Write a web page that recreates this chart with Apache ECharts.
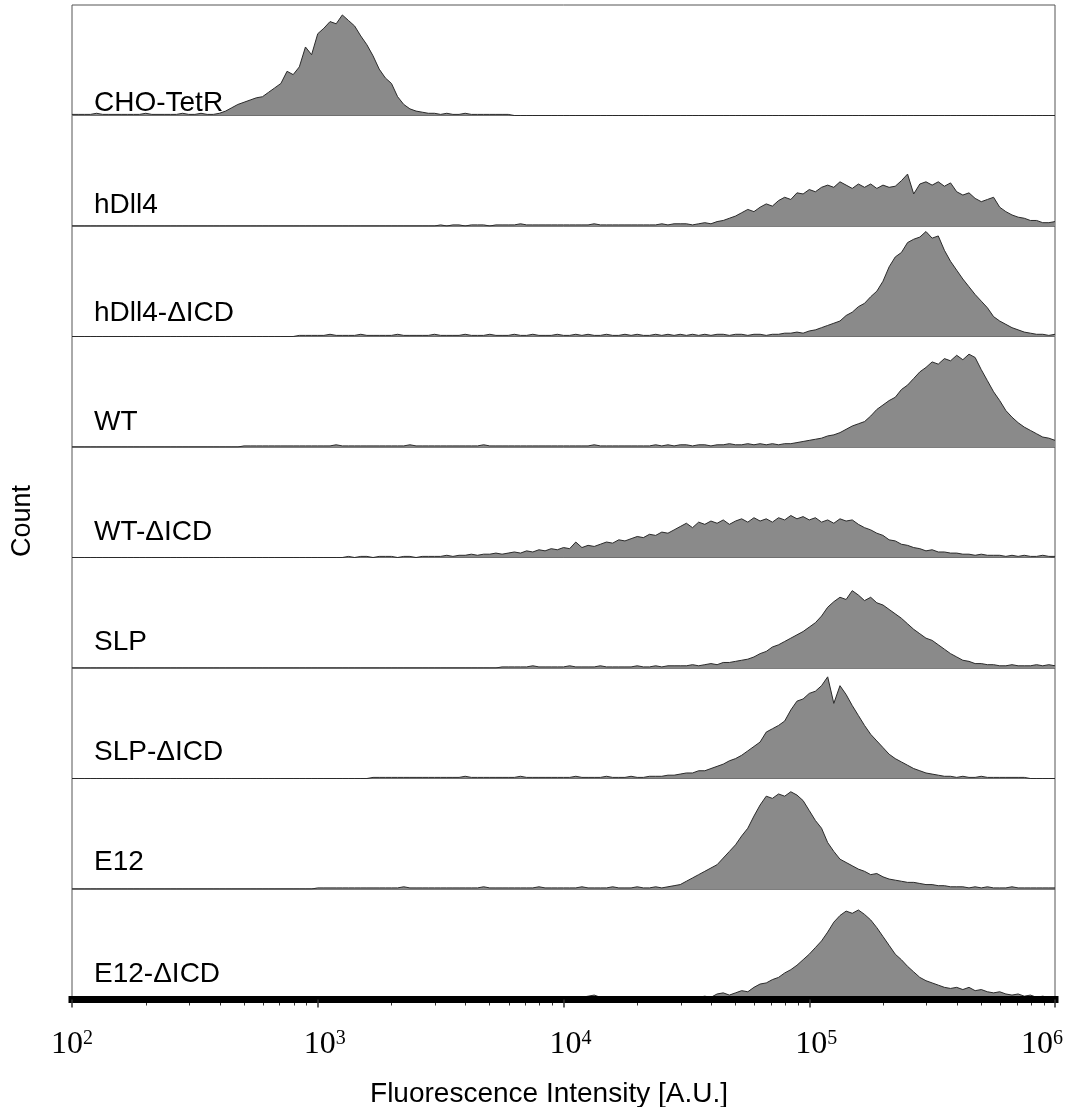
<!DOCTYPE html>
<html>
<head>
<meta charset="utf-8">
<title>Fluorescence histograms</title>
<script src="https://cdn.jsdelivr.net/npm/echarts@6/dist/echarts.min.js"></script>
<style>
  html, body { margin: 0; padding: 0; background: #fff; }
  #chart { width: 1071px; height: 1107px; }
</style>
</head>
<body>
<div id="chart"></div>
<script>
// histogram bins: log10(intensity) starting at 10^2, fixed step
const logStart = 2;
const logStep = 0.025;
const binCount = 161;

const sampleNames = ['CHO-TetR', 'hDll4', 'hDll4-ΔICD', 'WT', 'WT-ΔICD', 'SLP', 'SLP-ΔICD', 'E12', 'E12-ΔICD'];

// counts per bin (scaled so 100 = panel height)
const choTetR = [
  1,1,1,1,2,1,1,1,1,1, 1,1,2,1,1,1,1,1,2,1, 1,2,1,1,2,4,7,10,12,14, 16,17,21,25,29,40,37,44,62,55,
  74,79,85,83,91,86,81,72,64,54, 42,34,29,17,10,6,4,3,2,2, 1,2,1,1,2,1,1,1,1,1, 1,1,0,0,0,0,0,0,0,0,
  0,0,0,0,0,0,0,0,0,0, 0,0,0,0,0,0,0,0,0,0, 0,0,0,0,0,0,0,0,0,0, 0,0,0,0,0,0,0,0,0,0,
  0,0,0,0,0,0,0,0,0,0, 0,0,0,0,0,0,0,0,0,0, 0,0,0,0,0,0,0,0,0,0, 0,0,0,0,0,0,0,0,0,0,
  0
];
const hDll4 = [
  0,0,0,0,0,0,0,0,0,0, 0,0,0,0,0,0,0,0,0,0, 0,0,0,0,0,0,0,0,0,0, 0,0,0,0,0,0,0,0,0,0,
  0,0,0,0,0,0,0,0,0,0, 0,0,0,0,0,0,0,0,0,0, 1,0,1,1,0,1,1,1,0,1, 1,1,1,2,1,1,1,1,1,1,
  1,1,1,1,1,2,1,1,1,1, 1,1,1,1,1,1,2,1,2,2, 2,1,2,3,2,4,5,7,9,12, 15,13,17,20,18,23,26,24,30,29,
  33,31,35,37,35,40,37,34,38,35, 38,34,37,35,36,41,47,29,38,40, 37,40,36,39,31,28,30,25,22,24, 26,17,13,10,8,7,5,5,3,3,
  4
];
const hDll4dICD = [
  0,0,0,0,0,0,0,0,0,0, 0,0,0,0,0,0,0,0,0,0, 0,0,0,0,0,0,0,0,0,0, 0,0,0,0,0,0,0,1,1,1,
  1,1,2,1,1,1,1,2,1,1, 1,1,1,2,1,1,1,1,1,2, 1,1,1,1,2,1,1,1,2,1, 1,1,2,1,1,2,1,1,1,2,
  1,1,2,1,2,1,1,2,1,1, 2,1,2,1,1,2,1,2,1,2, 1,2,1,2,1,2,2,1,2,2, 1,2,2,1,2,2,3,3,4,3,
  5,6,8,10,12,14,19,22,27,30, 36,41,50,63,72,76,85,88,90,95, 89,91,78,68,60,52,45,38,32,26, 18,14,11,8,6,4,3,2,2,1,
  2
];
const wt = [
  0,0,0,0,0,0,0,0,0,0, 0,0,0,0,0,0,0,0,0,0, 0,0,0,0,0,0,0,0,1,1, 1,1,1,1,1,1,1,1,1,1,
  1,1,1,2,1,1,1,1,1,1, 1,1,1,1,1,2,1,1,1,1, 1,1,1,1,1,1,1,2,1,1, 1,1,1,1,1,1,1,1,1,1,
  1,1,1,1,1,2,1,1,1,1, 1,1,1,1,1,2,1,2,1,2, 2,1,2,2,1,2,2,3,2,2, 3,2,3,2,3,2,3,3,4,5,
  6,7,8,10,11,13,16,19,21,23, 28,34,38,42,45,52,56,62,68,72, 77,75,80,78,83,79,84,81,70,60, 50,42,33,27,22,18,15,12,9,8,
  6
];
const wtdICD = [
  0,0,0,0,0,0,0,0,0,0, 0,0,0,0,0,0,0,0,0,0, 0,0,0,0,0,0,0,0,0,0, 0,0,0,0,0,0,0,0,0,0,
  0,0,0,0,0,1,0,1,1,0, 1,1,1,0,1,1,0,1,1,1, 1,2,1,2,2,3,2,3,3,4, 3,4,5,4,6,5,7,6,8,7,
  9,8,14,9,11,10,12,14,13,16, 15,17,19,18,21,20,23,22,25,28, 31,27,32,30,33,31,34,30,33,35, 32,36,33,35,32,36,34,38,35,37,
  34,36,32,34,31,35,33,34,30,27, 25,22,20,16,15,12,11,9,8,6, 7,5,5,4,4,3,3,2,3,2, 2,2,1,2,1,2,1,1,2,1,
  1
];
const slp = [
  0,0,0,0,0,0,0,0,0,0, 0,0,0,0,0,0,0,0,0,0, 0,0,0,0,0,0,0,0,0,0, 0,0,0,0,0,0,0,0,0,0,
  0,0,0,0,0,0,0,0,0,0, 0,0,0,0,0,0,0,0,0,0, 0,0,0,0,0,0,0,0,0,0, 1,1,1,1,1,2,1,1,1,1,
  1,2,1,1,1,1,2,1,1,1, 1,1,2,1,1,2,1,2,2,2, 2,3,2,3,4,3,5,5,6,7, 8,10,13,15,19,21,24,27,30,33,
  37,41,47,55,60,64,62,70,66,61, 64,59,57,53,49,45,40,35,31,27, 25,21,17,13,10,7,6,4,4,3, 3,2,2,3,2,2,2,3,2,3,
  2
];
const slpdICD = [
  0,0,0,0,0,0,0,0,0,0, 0,0,0,0,0,0,0,0,0,0, 0,0,0,0,0,0,0,0,0,0, 0,0,0,0,0,0,0,0,0,0,
  0,0,0,0,0,0,0,0,0,1, 1,1,1,1,1,1,1,1,1,1, 1,1,1,1,2,1,1,1,1,1, 1,1,1,2,1,1,1,1,1,1,
  1,1,2,1,1,1,1,2,1,1, 1,2,1,1,2,2,2,3,3,4, 5,5,7,7,9,11,13,16,18,21, 25,29,33,42,45,48,52,62,70,72,
  77,79,84,92,68,84,76,66,57,48, 40,34,28,22,18,15,12,9,7,5, 4,3,2,2,1,2,1,1,2,1, 1,1,1,1,1,1,0,0,0,0,
  0
];
const e12 = [
  0,0,0,0,0,0,0,0,0,0, 0,0,0,0,0,0,0,0,0,0, 0,0,0,0,0,0,0,0,0,0, 0,0,0,0,0,0,0,0,0,0,
  1,1,1,1,1,1,1,1,1,1, 1,1,1,1,2,1,1,1,1,1, 1,1,1,1,1,1,1,2,1,1, 1,1,1,1,1,1,2,1,1,1,
  1,1,1,2,1,1,1,1,2,1, 1,1,2,1,1,2,1,2,3,4, 7,10,13,16,19,22,28,34,40,48, 55,66,76,84,82,86,84,88,85,80,
  71,62,55,42,34,27,24,21,18,16, 13,14,11,9,8,7,6,6,5,4, 4,3,3,2,2,2,1,2,1,2, 1,1,1,2,1,1,1,1,1,1,
  1
];
const e12dICD = [
  0,0,0,0,0,0,0,0,0,0, 0,0,0,0,0,0,0,0,0,0, 0,0,0,0,0,0,0,0,0,0, 0,0,0,0,0,0,0,0,0,0,
  0,0,0,0,0,0,0,0,0,0, 0,0,0,0,0,0,0,0,0,0, 0,0,0,0,0,0,0,0,0,0, 0,0,1,1,1,2,1,1,1,1,
  1,2,1,2,3,4,2,1,2,1, 1,1,1,2,1,1,1,1,2,1, 2,1,2,3,2,5,6,4,6,8, 7,11,14,15,18,20,24,27,31,36,
  41,47,53,61,70,76,80,78,81,77, 72,65,57,49,41,36,30,25,20,17, 15,13,11,10,11,9,11,8,9,7, 6,7,5,4,5,3,4,2,3,2,
  1
];
const counts = [choTetR, hDll4, hDll4dICD, wt, wtdICD, slp, slpdICD, e12, e12dICD];

const axisMin = 100;
const axisMax = 1000000;
const minorFactors = [2, 3, 4, 5, 6, 7, 8, 9];
const decades = [100, 1000, 10000, 100000];

// layout
const plotLeft = 72, plotRight = 16, plotTop = 5, panelH = 110.5;
const labelLift = [12, 21, 23, 25, 25, 26, 26, 27, 25];
const sansFont = '"Liberation Sans", Arial, sans-serif';
const serifFont = '"Liberation Serif", "DejaVu Serif", serif';

const binX = [];
for (let i = 0; i < binCount; i++) binX.push(Math.pow(10, logStart + i * logStep));

const minorTicks = [];
decades.forEach(function (d) {
  minorFactors.forEach(function (f) { minorTicks.push(d * f); });
});

const chart = echarts.init(document.getElementById('chart'));

const grids = [], xAxes = [], yAxes = [], series = [], graphics = [];
const last = sampleNames.length - 1;

sampleNames.forEach(function (name, p) {
  const top = plotTop + p * panelH;
  grids.push({
    left: plotLeft, right: plotRight, top: top, height: panelH,
    outerBoundsMode: 'none', containLabel: false,
    show: true, borderColor: '#555', borderWidth: 1
  });
  const xa = {
    type: 'log', gridIndex: p, min: axisMin, max: axisMax, logBase: 10,
    show: p === last, splitLine: { show: false }
  };
  if (p === last) {
    xa.z = 5;
    xa.axisLine = { show: true, lineStyle: { color: '#000', width: 7, cap: 'square' } };
    xa.axisTick = { show: true, length: 8, lineStyle: { color: '#333', width: 1.5 } };
    xa.axisLabel = {
      margin: 29,
      showMinLabel: true,
      showMaxLabel: true,
      formatter: function (v) {
        const e = Math.round(Math.log10(v));
        if (e === 2) return '{b|10}{s|' + e + '}';
        if (e === 6) return '{b|10}{se|' + e + '}';
        return '{bm|10}{s|' + e + '}';
      },
      rich: {
        b: { fontFamily: serifFont, fontSize: 32, color: '#000', lineHeight: 32 },
        bm: { fontFamily: serifFont, fontSize: 32, color: '#000', lineHeight: 32, padding: [0, 0, 0, 14] },
        s: { fontFamily: serifFont, fontSize: 20, color: '#000', lineHeight: 20, verticalAlign: 'top' },
        se: { fontFamily: serifFont, fontSize: 20, color: '#000', lineHeight: 20, verticalAlign: 'top', padding: [0, 26, 0, 0] }
      }
    };
  }
  xAxes.push(xa);
  yAxes.push({ type: 'value', gridIndex: p, min: 0, max: 100, show: false });

  series.push({
    name: name,
    type: 'line',
    xAxisIndex: p,
    yAxisIndex: p,
    data: counts[p].map(function (v, i) { return [binX[i], v]; }),
    symbol: 'none',
    showSymbol: false,
    lineStyle: { color: '#2a2a2a', width: 1 },
    areaStyle: { color: '#8a8a8a', opacity: 1 },
    silent: true,
    animation: false
  });

  graphics.push({
    type: 'text',
    x: 94,
    y: top + panelH - labelLift[p],
    style: {
      text: name, font: '28px ' + sansFont, fill: '#000',
      align: 'left', verticalAlign: 'middle'
    },
    z: 10
  });
});

// thin strip under the axis for the minor (2..9) ticks
const tickGrid = grids.length;
grids.push({
  left: plotLeft, right: plotRight, top: plotTop + 9 * panelH, height: 6,
  outerBoundsMode: 'none', containLabel: false, show: false
});
xAxes.push({ type: 'log', gridIndex: tickGrid, min: axisMin, max: axisMax, logBase: 10, show: false });
yAxes.push({ type: 'value', gridIndex: tickGrid, min: 0, max: 1, show: false });
series.push({
  type: 'line',
  xAxisIndex: tickGrid,
  yAxisIndex: tickGrid,
  data: [[axisMin, 0]],
  symbol: 'none',
  lineStyle: { opacity: 0 },
  silent: true,
  animation: false,
  z: 6,
  markLine: {
    silent: true,
    animation: false,
    symbol: ['none', 'none'],
    label: { show: false },
    lineStyle: { color: '#333', width: 1, type: 'solid' },
    data: minorTicks.map(function (v) { return { xAxis: v }; })
  }
});

graphics.push({
  type: 'text', x: 23, y: 521, rotation: Math.PI / 2,
  style: { text: 'Count', font: '27px ' + sansFont, fill: '#000', align: 'center', verticalAlign: 'middle' }
});
graphics.push({
  type: 'text', x: 549, y: 1094,
  style: { text: 'Fluorescence Intensity [A.U.]', font: '28px ' + sansFont, fill: '#000', align: 'center', verticalAlign: 'middle' }
});

chart.setOption({
  backgroundColor: '#fff',
  animation: false,
  grid: grids,
  xAxis: xAxes,
  yAxis: yAxes,
  series: series,
  graphic: graphics
});

window.addEventListener('resize', function () { chart.resize(); });
</script>
</body>
</html>
